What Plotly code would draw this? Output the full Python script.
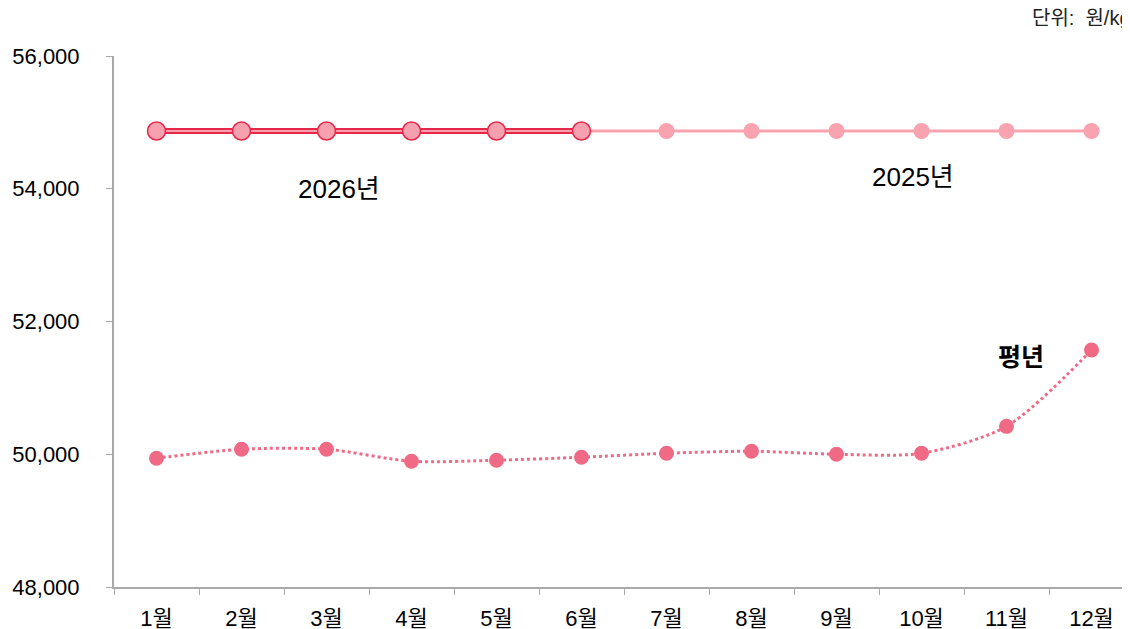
import plotly.graph_objects as go

months = ["1월", "2월", "3월", "4월", "5월", "6월", "7월", "8월", "9월", "10월", "11월", "12월"]
y2026 = [54870, 54870, 54870, 54870, 54870, 54870]
y2025 = [54870] * 12
y_avg = [49940, 50075, 50075, 49895, 49910, 49955, 50015, 50045, 50000, 50015, 50420, 51570]

FONT = "Liberation Sans, Arial, Noto Sans CJK KR, sans-serif"

fig = go.Figure()
fig.add_trace(go.Scatter(x=months, y=y_avg, mode="lines+markers",
                         line=dict(color="#f06a86", width=3, dash="dot", shape="spline", smoothing=0.8),
                         marker=dict(size=15, color="#f06a86"), showlegend=False))
fig.add_trace(go.Scatter(x=months, y=y2025, mode="lines+markers",
                         line=dict(color="#f9a3b1", width=3),
                         marker=dict(size=16, color="#f9a3b1"), showlegend=False))
fig.add_trace(go.Scatter(x=months[:6], y=y2026, mode="lines",
                         line=dict(color="#e8284a", width=6), showlegend=False))
fig.add_trace(go.Scatter(x=months[:6], y=y2026, mode="lines+markers",
                         line=dict(color="#f7a1b0", width=2),
                         marker=dict(size=18, color="#f7a1b0", line=dict(color="#e8284a", width=1.5)),
                         showlegend=False))

fig.add_annotation(x=2.15, y=54000, text="2026년", showarrow=False, xref="x", yref="y",
                   font=dict(family=FONT, size=26, color="#000"))
fig.add_annotation(x=8.9, y=54180, text="2025년", showarrow=False, xref="x", yref="y",
                   font=dict(family=FONT, size=26, color="#000"))
fig.add_annotation(x=10.17, y=51470, text="<b>평년</b>", showarrow=False, xref="x", yref="y",
                   font=dict(family=FONT, size=25, color="#000"))
fig.add_annotation(x=0.895, y=1.0716, xref="paper", yref="paper", xanchor="left", yanchor="middle",
                   text="단위:  원/kg", showarrow=False,
                   font=dict(family=FONT, size=20, color="#222"))

fig.update_xaxes(type="category", range=[-0.5, 11.547], tickson="boundaries", ticks="outside",
                 ticklen=6, tickcolor="#aaa", showline=True, linecolor="#aaa", linewidth=2,
                 showgrid=False, zeroline=False, ticklabelstandoff=11,
                 tickfont=dict(family=FONT, size=22, color="#000"))
fig.update_yaxes(range=[48000, 56000], dtick=2000, tickformat=",", ticks="outside",
                 ticklen=6, tickcolor="#aaa", showline=True, linecolor="#aaa", linewidth=2,
                 showgrid=False, zeroline=False, ticklabelstandoff=22,
                 tickfont=dict(family=FONT, size=22, color="#000"))
fig.update_layout(width=1130, height=629, margin=dict(l=106, r=0, t=48, b=50),
                  plot_bgcolor="white", paper_bgcolor="white")
fig.write_html("out.html")
